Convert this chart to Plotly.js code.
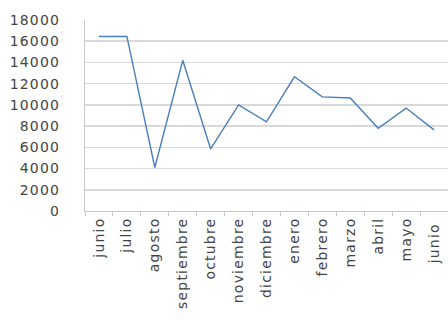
<!DOCTYPE html>
<html><head><meta charset="utf-8">
<script src="https://cdn.plot.ly/plotly-3.0.1.min.js"></script>
<style>html,body{margin:0;padding:0;background:#fff}#c{width:448px;height:320px}
#c .xtick text, #c .ytick text{letter-spacing:1.2px}</style>
</head><body><div id="c"></div>
<script>
const months = ["junio","julio","agosto","septiembre","octubre","noviembre","diciembre","enero","febrero","marzo","abril","mayo","junio "];
const values = [16450, 16450, 4100, 14200, 5850, 10000, 8400, 12650, 10750, 10650, 7800, 9700, 7650];
const yTicks = [0,2000,4000,6000,8000,10000,12000,14000,16000,18000];

Plotly.newPlot('c', [{
  x: months, y: values, type: 'scatter', mode: 'lines',
  line: {color: '#4a7ebb', width: 1.4}
}], {
  width: 448, height: 320,
  margin: {l: 85, r: 0, t: 20, b: 109},
  paper_bgcolor: '#fff', plot_bgcolor: '#fff',
  showlegend: false,
  font: {family: 'DejaVu Sans, sans-serif', size: 14, color: '#444'},
  xaxis: {
    type: 'category', range: [-0.5, 12.5], tickangle: -90,
    showgrid: false, showline: true, linecolor: '#c8c8c8', linewidth: 1,
    ticks: 'outside', tickson: 'boundaries', ticklen: 4, tickcolor: '#c8c8c8',
    tickfont: {size: 14, color: '#444'}
  },
  yaxis: {
    range: [0, 18000], tickvals: yTicks, ticktext: yTicks.map(String),
    showgrid: true, gridcolor: '#d9d9d9', gridwidth: 1.5,
    showline: true, linecolor: '#c8c8c8', zeroline: false,
    ticks: 'outside', ticklen: 21, tickcolor: 'rgba(0,0,0,0)',
    tickfont: {size: 14, color: '#444'}
  }
}, {displayModeBar: false, staticPlot: true});
</script></body></html>
